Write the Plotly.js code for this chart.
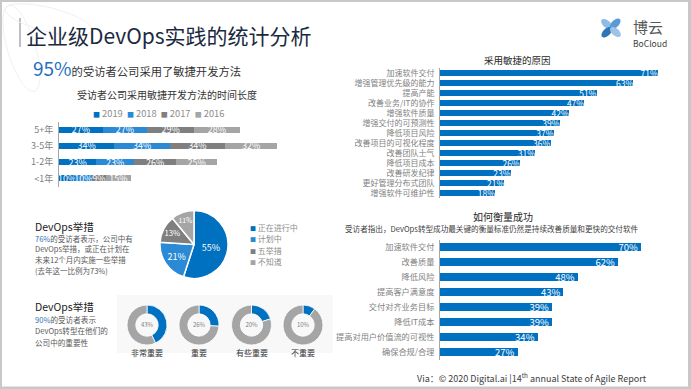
<!DOCTYPE html>
<html><head><meta charset="utf-8">
<script src="https://cdn.plot.ly/plotly-3.0.1.min.js"></script>
<style>html,body{margin:0;padding:0;background:#fff;}#chart{width:691px;height:389px;}</style>
</head><body><div id="chart"></div>
<script>
// ---------- DATA ----------
const lenCats = ['5+年','3-5年','1-2年','<1年'];
const lenYears = ['2019','2018','2017','2016'];
const len2019 = [27,34,23,10];
const len2018 = [27,34,23,10];
const len2017 = [29,34,26,9];
const len2016 = [28,32,25,15];

const reasonCats = ['加速软件交付','增强管理优先级的能力','提高产能','改善业务/IT的协作','增强软件质量','增强交付的可预测性','降低项目风险','改善项目的可视化程度','改善团队士气','降低项目成本','改善研发纪律','更好管理分布式团队','增强软件可维护性'];
const reasonVals = [71,63,51,47,42,39,37,36,31,26,23,21,18];

const successCats = ['加速软件交付','改善质量','降低风险','提高客户满意度','交付对齐业务目标','降低IT成本','提高对用户价值流的可视性','确保合规/合理'];
const successVals = [70,62,48,43,39,39,34,27];

const pieLabels = ['正在进行中','计划中','五举措','不知道'];
const pieVals = [55,21,13,11];

const donutLabels = ['非常重要','重要','有些重要','不重要'];
const donutVals = [43,26,20,10];

// ---------- HELPERS ----------
const W=691,H=389;
const X=p=>p/W, Y=p=>1-p/H;
const FONT='"Noto Sans CJK SC","Noto Sans",sans-serif';
const BLUE='#0070C0', BLUE2='#2A8AD5', GRAY1='#7F7F7F', GRAY2='#A5A5A5';
const yearColors=[BLUE,BLUE2,GRAY1,GRAY2];
const pieColors=[BLUE,BLUE2,GRAY1,GRAY2];

const traces=[];
// chart 1 stacked bars
[len2019,len2018,len2017,len2016].forEach((vals,i)=>{
  traces.push({type:'bar',orientation:'h',y:lenCats,x:vals,name:lenYears[i],xaxis:'x',yaxis:'y',
    width:0.37,marker:{color:yearColors[i]},texttemplate:'%{x}%',textposition:'inside',insidetextanchor:'middle',
    textangle:0,constraintext:'none',textfont:{color:'#fff',size:9,family:FONT},showlegend:false,hoverinfo:'skip'});
});
// chart 2
traces.push({type:'bar',orientation:'h',y:reasonCats,x:reasonVals,xaxis:'x2',yaxis:'y2',width:0.6,
  marker:{color:BLUE},texttemplate:'%{x}%',textposition:'inside',insidetextanchor:'end',textangle:0,constraintext:'none',
  textfont:{color:'#fff',size:8.5,family:FONT},showlegend:false,hoverinfo:'skip'});
// chart 3
traces.push({type:'bar',orientation:'h',y:successCats,x:successVals,xaxis:'x3',yaxis:'y3',width:0.53,
  marker:{color:BLUE},texttemplate:'%{x}%',textposition:'inside',insidetextanchor:'end',textangle:0,constraintext:'none',
  textfont:{color:'#fff',size:9.5,family:FONT},showlegend:false,hoverinfo:'skip'});
// pie
traces.push({type:'pie',labels:pieLabels,values:pieVals,sort:false,direction:'clockwise',rotation:0,
  domain:{x:[X(160),X(228)],y:[Y(278.5),Y(210.5)]},marker:{colors:pieColors,line:{color:'#fff',width:1.5}},
  texttemplate:'%{value}%',textposition:'inside',insidetextorientation:'horizontal',
  textfont:{color:'#fff',size:9,family:FONT},showlegend:false,hoverinfo:'skip'});
// donuts
const donutCx=[147,199,251.5,303];
donutVals.forEach((v,i)=>{
  traces.push({type:'pie',values:[v,100-v],labels:['a','b'],sort:false,direction:'clockwise',rotation:0,hole:0.56,
    domain:{x:[X(donutCx[i]-20),X(donutCx[i]+20)],y:[Y(345),Y(305)]},
    marker:{colors:[BLUE,GRAY2],line:{color:'#fff',width:0.8}},textinfo:'none',showlegend:false,hoverinfo:'skip',
    title:{text:v+'%',position:'middle center',font:{size:6,color:'#7f7f7f',family:FONT}}});
});

// ---------- ANNOTATIONS ----------
const ann=[];
function A(text,x,y,o){ann.push(Object.assign({text:text,x:X(x),y:Y(y),xref:'paper',yref:'paper',showarrow:false,
  xanchor:'left',yanchor:'middle',font:{family:FONT,size:9,color:'#404040'}},o||{}));}
A('企业级DevOps实践的统计分析',24,35,{font:{family:FONT,size:21,color:'#1b2a41'}});
A('<span style="font-size:19px;color:#1F6FBF">95%</span>的受访者公司采用了敏捷开发方法',31,67,{font:{family:FONT,size:11.3,color:'#333'}});
A('受访者公司采用敏捷开发方法的时间长度',167,95,{xanchor:'center',font:{family:FONT,size:10,color:'#333'}});
A(lenYears.map((y,i)=>'<span style="color:'+yearColors[i]+';font-size:7px">■</span>&nbsp;'+y).join('&nbsp; '),91,113,{font:{family:FONT,size:9.3,color:'#8c8c8c'}});
A('采用敏捷的原因',517,60,{xanchor:'center',font:{family:FONT,size:9.5,color:'#262626'}});
A('如何衡量成功',503,216,{xanchor:'center',font:{family:FONT,size:10,color:'#262626'}});
A('受访者指出，DevOps转型成功最关键的衡量标准仍然是持续改善质量和更快的交付软件',343,228,{font:{family:FONT,size:7.6,color:'#404040'}});
pieLabels.forEach((l,i)=>A('<span style="color:'+pieColors[i]+';font-size:6px">■</span> '+l,248,227+i*11.5,{font:{family:FONT,size:8,color:'#8c8c8c'}}));
A('DevOps举措',33,226,{font:{family:FONT,size:10.5,color:'#1a1a1a'}});
['<span style="color:#2E75B6">76%</span>的受访者表示，公司中有','DevOps举措，或正在计划在','未来12个月内实施一些举措','(去年这一比例为73%)']
  .forEach((t,i)=>A(t,33,238.3+i*10.6,{font:{family:FONT,size:7.5,color:'#595959'}}));
A('DevOps举措',33,306,{font:{family:FONT,size:10.5,color:'#1a1a1a'}});
['<span style="color:#2E75B6">90%</span>的受访者表示','DevOps转型在他们的','公司中的重要性']
  .forEach((t,i)=>A(t,33,319.5+i*11.4,{font:{family:FONT,size:7.6,color:'#595959'}}));
donutLabels.forEach((l,i)=>A(l,donutCx[i],352.5,{xanchor:'center',font:{family:FONT,size:8,color:'#333'}}));
A('Via：© 2020 Digital.ai |14<sup>th</sup> annual State of Agile Report',415,378,{font:{family:FONT,size:9,color:'#404040'}});
A('博云',631,26.5,{font:{family:FONT,size:15,color:'#595959'}});
A('BoCloud',631,43,{font:{family:FONT,size:8.5,color:'#404040'}});

// ---------- SHAPES ----------
function petal(cx,cy,dx,dy,a,b,off){
  const L=Math.hypot(dx,dy);dx/=L;dy/=L;const ex=cx+dx*off,ey=cy+dy*off,qx=-dy,qy=dx;let s='';
  for(let i=0;i<=28;i++){const t=2*Math.PI*i/28;const x=ex+dx*a*Math.cos(t)+qx*b*Math.sin(t);const y=ey+dy*a*Math.cos(t)+qy*b*Math.sin(t);
    s+=(i?'L':'M')+X(x).toFixed(5)+','+Y(y).toFixed(5);}return s+'Z';}
const shapes=[
  {type:'rect',xref:'paper',yref:'paper',x0:X(117),x1:X(333),y0:Y(353),y1:Y(295),fillcolor:'#f8f8f8',line:{width:0},layer:'below'},
  {type:'line',xref:'paper',yref:'paper',x0:X(20),x1:X(20),y0:Y(47),y1:Y(18),line:{color:'#7f7f7f',width:1}},
  // frame
  {type:'rect',xref:'paper',yref:'paper',x0:0,x1:X(2),y0:0,y1:1,fillcolor:'#c8c8c8',line:{width:0}},
  {type:'rect',xref:'paper',yref:'paper',x0:0,x1:1,y0:Y(2),y1:1,fillcolor:'#c8c8c8',line:{width:0}},
  {type:'rect',xref:'paper',yref:'paper',x0:X(688),x1:1,y0:0,y1:1,fillcolor:'#c8c8c8',line:{width:0}},
  {type:'rect',xref:'paper',yref:'paper',x0:0,x1:1,y0:0,y1:Y(386.5),fillcolor:'#c8c8c8',line:{width:0}},
  // logo petals
  {type:'path',xref:'paper',yref:'paper',path:petal(611,28,-1,-0.9,6.5,3.6,6),fillcolor:'#8FBCE6',line:{width:0}},
  {type:'path',xref:'paper',yref:'paper',path:petal(611,28,1,-1,6.5,3.6,6),fillcolor:'#5B9BD5',line:{width:0}},
  {type:'path',xref:'paper',yref:'paper',path:petal(611,28,-1,1,6.5,3.6,6),fillcolor:'#2E75B6',line:{width:0}},
  {type:'path',xref:'paper',yref:'paper',path:petal(611,28,1,0.9,6.5,3.6,6),fillcolor:'#9DC3E6',line:{width:0}},
  // faint watermark
  {type:'path',xref:'paper',yref:'paper',path:petal(10,10,0.3,1,45,14,40),fillcolor:'rgba(0,0,0,0)',line:{color:'#f0f0f0',width:1}},
  {type:'path',xref:'paper',yref:'paper',path:petal(10,10,1,0.25,45,12,40),fillcolor:'rgba(0,0,0,0)',line:{color:'#f0f0f0',width:1}}
];

const yax=(dom,fs)=>({domain:dom,type:'category',autorange:'reversed',showline:true,linecolor:'#a6a6a6',linewidth:1,
  ticks:'',showgrid:false,zeroline:false,tickfont:{family:FONT,size:fs,color:'#7f7f7f'},ticklabelstandoff:3,fixedrange:true});
const xax=(dom,range,anchor)=>({domain:dom,range:range,anchor:anchor,visible:false,showgrid:false,zeroline:false,fixedrange:true});

const layout={width:W,height:H,margin:{l:0,r:0,t:0,b:0},paper_bgcolor:'#fff',plot_bgcolor:'rgba(0,0,0,0)',
  barmode:'stack',showlegend:false,font:{family:FONT},
  xaxis:xax([X(59),X(300)],[0,148],'y'),
  yaxis:Object.assign(yax([Y(186.5),Y(121.5)],9),{anchor:'x'}),
  xaxis2:xax([X(440),X(670)],[0,74.9],'y2'),
  yaxis2:Object.assign(yax([Y(198),Y(68)],8),{anchor:'x2'}),
  xaxis3:xax([X(440),X(670)],[0,80.1],'y3'),
  yaxis3:Object.assign(yax([Y(359.5),Y(239.5)],8.2),{anchor:'x3'}),
  annotations:ann,shapes:shapes};
Plotly.newPlot('chart',traces,layout,{displayModeBar:false,staticPlot:true});
</script></body></html>
